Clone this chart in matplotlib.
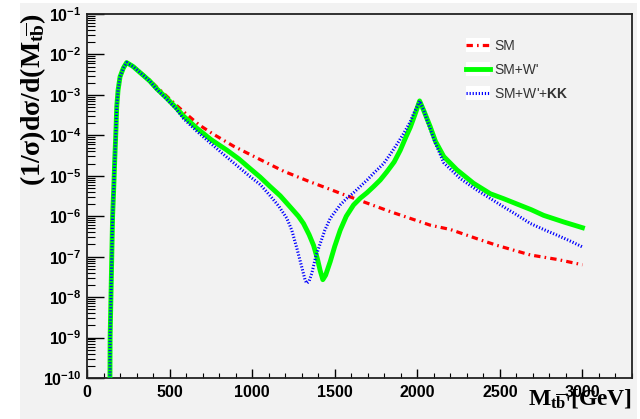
import numpy as np
import matplotlib
matplotlib.use("Agg")
import matplotlib.pyplot as plt
from matplotlib.patches import Rectangle
from matplotlib.legend_handler import HandlerLine2D
from matplotlib.ticker import LogLocator, MultipleLocator, FuncFormatter, NullFormatter

# ---- data: normalised invariant-mass distributions (1/sigma) dsigma/dM ----
# threshold rise, common to all three samples [GeV]
m_threshold = [138, 140, 145, 150, 155, 162, 168, 176, 180, 188, 200, 220]
y_threshold = [1.0e-11, 1.0e-9, 1.0e-8, 1.0e-7, 1.0e-6, 5.0e-6, 2.5e-5,
               1.6e-4, 5.1e-4, 1.3e-3, 2.8e-3, 4.6e-3]

m_sm = [240, 280, 320, 380, 420, 480, 540, 600, 680, 760, 887, 1050, 1190,
        1350, 1473, 1533, 1614, 1776, 1836, 2079, 2200, 2382, 2483, 2685,
        2850, 3000]
y_sm = [6.3e-3, 5.0e-3, 3.7e-3, 2.3e-3, 1.6e-3, 9.5e-4, 5.6e-4, 3.4e-4,
        1.8e-4, 1.1e-4, 5.4e-5, 2.5e-5, 1.3e-5, 7.1e-6, 4.6e-6, 3.7e-6,
        2.8e-6, 1.6e-6, 1.3e-6, 6.0e-7, 4.7e-7, 2.6e-7, 1.9e-7, 1.1e-7,
        8.5e-8, 6.3e-8]

m_wp = [240, 280, 320, 380, 420, 480, 540, 584, 665, 750, 847, 920, 988,
        1048, 1109, 1170, 1230, 1280, 1311, 1345, 1372, 1395, 1412, 1428,
        1445, 1473, 1500, 1533, 1570, 1614, 1655, 1695, 1735, 1776, 1816,
        1860, 1897, 1930, 1958, 1985, 2014, 2040, 2079, 2110, 2160, 2240,
        2341, 2442, 2524, 2604, 2690, 2765, 2887, 3000]
y_wp = [6.3e-3, 5.0e-3, 3.6e-3, 2.2e-3, 1.45e-3, 8.5e-4, 4.8e-4, 3.0e-4,
        1.5e-4, 7.9e-5, 4.3e-5, 2.6e-5, 1.5e-5, 9.3e-6, 5.4e-6, 3.2e-6,
        1.7e-6, 1.0e-6, 6.6e-7, 3.5e-7, 1.9e-7, 8.9e-8, 4.5e-8, 2.7e-8,
        3.5e-8, 7.6e-8, 1.8e-7, 4.5e-7, 1.0e-6, 1.9e-6, 2.8e-6, 3.8e-6,
        5.4e-6, 7.9e-6, 1.26e-5, 2.2e-5, 4.3e-5, 8.9e-5, 1.6e-4, 3.2e-4,
        7.1e-4, 4.0e-4, 1.6e-4, 7.1e-5, 3.0e-5, 1.4e-5, 6.5e-6, 3.6e-6,
        2.7e-6, 2.0e-6, 1.45e-6, 1.05e-6, 7.2e-7, 5.2e-7]

m_kk = [240, 280, 320, 380, 420, 480, 540, 584, 665, 750, 826, 900, 988,
        1050, 1109, 1160, 1210, 1240, 1271, 1300, 1321, 1331, 1345, 1362,
        1385, 1412, 1440, 1473, 1533, 1574, 1614, 1695, 1735, 1796, 1836,
        1880, 1917, 1958, 1978, 2000, 2014, 2040, 2079, 2110, 2160, 2261,
        2362, 2442, 2523, 2604, 2685, 2765, 2846, 2920, 3000]
y_kk = [6.3e-3, 5.0e-3, 3.6e-3, 2.2e-3, 1.4e-3, 8.1e-4, 4.5e-4, 2.6e-4,
        1.26e-4, 6.3e-5, 3.4e-5, 1.9e-5, 9.5e-6, 6.0e-6, 3.2e-6, 1.8e-6,
        8.9e-7, 4.5e-7, 1.6e-7, 5.6e-8, 2.6e-8, 2.2e-8, 2.5e-8, 4.0e-8,
        1.0e-7, 2.1e-7, 4.5e-7, 8.9e-7, 1.9e-6, 2.8e-6, 3.8e-6, 7.8e-6,
        1.15e-5, 2.0e-5, 3.4e-5, 6.3e-5, 1.1e-4, 2.2e-4, 3.5e-4, 5.2e-4,
        7.1e-4, 4.0e-4, 1.4e-4, 6.3e-5, 2.1e-5, 8.5e-6, 4.4e-6, 2.75e-6,
        1.7e-6, 1.07e-6, 6.6e-7, 4.7e-7, 3.4e-7, 2.5e-7, 1.74e-7]

labels = ["SM", "SM+W'", r"SM+W'+$\mathsf{KK}$"]
x_range = (0, 3300)
y_range = (1e-10, 1e-1)

# ---- fonts ----
plt.rcParams["font.family"] = ["Liberation Sans", "DejaVu Sans"]
plt.rcParams["mathtext.fontset"] = "custom"
plt.rcParams["mathtext.rm"] = "Liberation Serif:bold"
plt.rcParams["mathtext.it"] = "Liberation Serif:bold"
plt.rcParams["mathtext.bf"] = "Liberation Serif:bold"
plt.rcParams["mathtext.sf"] = "Liberation Sans:bold"

bg = "#f2f2f2"
fig = plt.figure(figsize=(6.4, 4.19), dpi=100, facecolor="white")
fig.patches.append(Rectangle((20 / 640, 0), 617 / 640, 416 / 419,
                             transform=fig.transFigure, facecolor=bg,
                             edgecolor="none", zorder=-10))
ax = fig.add_axes([87 / 640, 41 / 419, 545 / 640, 364 / 419])
ax.set_facecolor(bg)


def full(m, y):
    return list(m_threshold) + list(m), list(y_threshold) + list(y)


x, y = full(m_sm, y_sm)
ax.plot(x, y, color="#ff0000", lw=2.3, linestyle=(0, (2.0, 1.3, 0.5, 1.3)),
        dash_capstyle="butt", label=labels[0], zorder=3)
x, y = full(m_wp, y_wp)
ax.plot(x, y, color="#00ff00", lw=3.5, solid_joinstyle="round",
        label=labels[1], zorder=4)
x, y = full(m_kk, y_kk)
ax.plot(x, y, color="#0000ff", lw=2.2, linestyle=(0, (0.4, 0.6)),
        dash_capstyle="butt", label=labels[2], zorder=5)

ax.set_yscale("log")
ax.set_xlim(*x_range)
ax.set_ylim(*y_range)

ax.yaxis.set_major_locator(LogLocator(base=10, numticks=20))
ax.yaxis.set_minor_locator(LogLocator(base=10, subs=np.arange(2, 10), numticks=20))
ax.yaxis.set_major_formatter(
    FuncFormatter(lambda v, p: r"$\mathsf{10^{%d}}$" % int(round(np.log10(v)))))
ax.yaxis.set_minor_formatter(NullFormatter())
ax.xaxis.set_major_locator(MultipleLocator(500))
ax.xaxis.set_minor_locator(MultipleLocator(100))

ax.tick_params(axis="y", which="major", direction="in", length=12, width=1,
               left=True, right=False, pad=4, labelsize=11.5)
ax.tick_params(axis="y", which="minor", direction="in", length=6, width=0.8,
               left=True, right=False)
ax.tick_params(axis="x", which="major", direction="in", length=6.5, width=1,
               bottom=True, top=False, pad=5, labelsize=11.5)
ax.tick_params(axis="x", which="minor", direction="in", length=3.5, width=0.8,
               bottom=True, top=False)
for lab in ax.get_xticklabels():
    lab.set_fontweight("bold")
for sp in ax.spines.values():
    sp.set_linewidth(1.3)
    sp.set_color("#222222")

ax.set_ylabel(r"$(1/\sigma)d\sigma/d(M_{t\overline{b}})$", fontsize=20, loc="top")
ax.yaxis.set_label_coords(-0.072, 1.0)
ax.set_xlabel(r"$M_{t\overline{b}\text{'}}[GeV]$", fontsize=17, loc="right")
ax.xaxis.set_label_coords(1.0, -0.025)


class BoxedLine(HandlerLine2D):
    def create_artists(self, legend, orig_handle, xdescent, ydescent,
                       width, height, fontsize, trans):
        arts = super().create_artists(legend, orig_handle, xdescent, ydescent,
                                      width, height, fontsize, trans)
        box = Rectangle((-xdescent, -ydescent - 0.2 * height), width,
                        1.4 * height, facecolor="white", edgecolor="none",
                        transform=trans)
        return [box] + arts


leg = ax.legend(loc="upper left", bbox_to_anchor=(0.695, 0.931),
                borderaxespad=0, borderpad=0, frameon=False, fontsize=10,
                handlelength=1.75, handletextpad=0.3, labelspacing=0.72,
                handler_map={plt.Line2D: BoxedLine()})
for t in leg.get_texts():
    t.set_color("#333333")

fig.savefig("out.png", dpi=100, facecolor=fig.get_facecolor())
